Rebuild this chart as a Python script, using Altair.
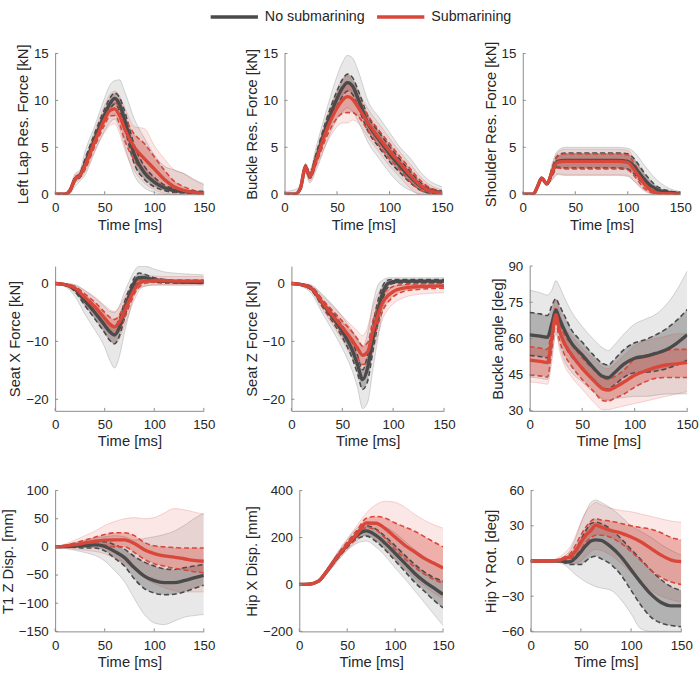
import altair as alt
import pandas as pd

GROUPS = ["No submarining", "Submarining"]
COLORS = ["#4a4a4a", "#d8473a"]
TIME_TICKS = [0, 50, 100, 150]
AXIS_GREY = "#8a8a8a"
TEXT = "#262626"
FONT = "Liberation Sans"

# Each group of a panel: mean, -1 SD, +1 SD, lowest trace, highest trace

# Left lap belt resultant force [kN]
lap_t = [0, 10, 15, 20, 25, 30, 40, 50, 55, 60, 65, 70, 80, 90, 100, 110, 120, 130, 140, 150]
lap_ns_mean = [0, 0, 0.4, 1.6, 2.0, 3.2, 5.9, 8.5, 9.6, 10.2, 9.6, 8.0, 4.2, 2.3, 1.3, 0.7, 0.4, 0.3, 0.2, 0.15]
lap_ns_sdlo = [0, 0, 0.3, 1.4, 1.8, 2.7, 5.3, 7.9, 9.0, 9.6, 8.9, 7.1, 3.2, 1.6, 0.8, 0.4, 0.2, 0.15, 0.1, 0.05]
lap_ns_sdhi = [0, 0, 0.5, 1.8, 2.2, 3.7, 6.5, 9.1, 10.2, 10.8, 10.3, 8.9, 5.2, 3.0, 1.8, 1.0, 0.6, 0.45, 0.35, 0.3]
lap_ns_min = [0, 0, 0.1, 0.8, 1.4, 2.0, 4.5, 6.8, 7.6, 8.0, 7.0, 5.2, 2.0, 0.7, 0.2, 0, 0, 0, 0, 0]
lap_ns_max = [0, 0.1, 0.8, 2.2, 2.6, 4.5, 7.3, 10.3, 11.6, 12.1, 12.2, 11.0, 8.0, 6.0, 4.2, 3.0, 2.6, 2.2, 1.6, 1.1]
lap_s_mean = [0, 0, 0.4, 1.6, 2.0, 3.0, 5.6, 8.0, 8.9, 9.1, 8.4, 7.0, 5.0, 3.8, 2.7, 1.6, 0.8, 0.4, 0.2, 0.1]
lap_s_sdlo = [0, 0, 0.3, 1.4, 1.8, 2.6, 5.1, 7.4, 8.3, 8.4, 7.5, 5.8, 3.6, 2.3, 1.4, 0.7, 0.3, 0.1, 0.05, 0]
lap_s_sdhi = [0, 0, 0.5, 1.8, 2.2, 3.4, 6.1, 8.6, 9.5, 9.8, 9.3, 8.2, 6.4, 5.4, 4.0, 2.6, 1.4, 0.8, 0.4, 0.2]
lap_s_min = [0, 0, 0.2, 1.2, 1.6, 2.3, 4.6, 6.6, 7.3, 7.5, 6.5, 4.8, 2.5, 1.2, 0.5, 0.1, 0, 0, 0, 0]
lap_s_max = [0, 0, 0.6, 2.0, 2.4, 3.8, 6.8, 9.5, 10.6, 11.0, 10.5, 9.3, 7.2, 7.0, 5.2, 3.8, 2.6, 2.2, 1.5, 1.0]

# Buckle resultant force [kN]
bkf_t = [0, 10, 15, 20, 24, 30, 40, 50, 55, 60, 65, 70, 80, 90, 100, 110, 120, 130, 140, 150]
bkf_ns_mean = [0, 0, 0.6, 2.9, 1.9, 3.8, 7.3, 10.2, 11.3, 11.9, 11.5, 10.2, 7.4, 5.8, 4.3, 3.0, 1.8, 0.8, 0.35, 0.2]
bkf_ns_sdlo = [0, 0, 0.5, 2.7, 1.7, 3.3, 6.6, 9.4, 10.4, 11.0, 10.6, 9.3, 6.6, 5.0, 3.5, 2.3, 1.2, 0.4, 0.1, 0.05]
bkf_ns_sdhi = [0, 0, 0.7, 3.1, 2.1, 4.3, 8.0, 11.0, 12.2, 12.8, 12.4, 11.1, 8.2, 6.6, 5.1, 3.7, 2.4, 1.2, 0.6, 0.35]
bkf_ns_min = [0, 0, 0.3, 2.2, 1.2, 2.5, 5.5, 8.0, 8.8, 9.2, 8.8, 7.8, 5.4, 3.8, 2.3, 1.1, 0.4, 0, 0, 0]
bkf_ns_max = [0.3, 0.5, 1.0, 3.3, 2.6, 5.0, 9.0, 12.6, 14.0, 14.8, 14.5, 13.2, 9.8, 8.2, 6.6, 5.0, 3.8, 2.3, 1.3, 0.8]
bkf_s_mean = [0, 0, 0.6, 2.9, 1.9, 3.6, 6.8, 9.2, 10.0, 10.4, 10.1, 9.3, 7.5, 6.0, 4.6, 3.3, 2.0, 0.9, 0.3, 0.15]
bkf_s_sdlo = [0, 0, 0.5, 2.7, 1.7, 3.2, 6.1, 8.1, 8.6, 8.7, 8.7, 8.3, 6.7, 5.2, 3.8, 2.6, 1.3, 0.4, 0.05, 0]
bkf_s_sdhi = [0, 0, 0.7, 3.1, 2.1, 4.0, 7.5, 10.4, 11.5, 12.0, 11.4, 10.3, 8.3, 6.8, 5.4, 4.0, 2.7, 1.4, 0.6, 0.3]
bkf_s_min = [0, 0, 0.4, 2.5, 1.4, 2.8, 5.4, 7.2, 7.6, 7.6, 7.9, 7.6, 6.0, 4.5, 3.0, 1.8, 0.6, 0, 0, 0]
bkf_s_max = [0, 0, 0.8, 3.2, 2.4, 4.5, 8.2, 11.2, 12.3, 12.6, 12.0, 11.0, 9.0, 7.5, 6.0, 4.5, 3.2, 1.8, 0.9, 0.5]

# Shoulder belt resultant force [kN]
shf_t = [0, 10, 14, 18, 23, 28, 33, 40, 50, 70, 90, 100, 105, 110, 115, 120, 125, 130, 140, 150]
shf_ns_mean = [0, 0, 0.8, 1.7, 1.1, 2.4, 3.5, 3.6, 3.6, 3.6, 3.6, 3.5, 3.1, 2.4, 1.7, 1.1, 0.7, 0.4, 0.2, 0.1]
shf_ns_sdlo = [0, 0, 0.8, 1.7, 1.1, 2.0, 2.9, 2.8, 2.8, 2.8, 2.8, 2.7, 2.3, 1.7, 1.1, 0.6, 0.3, 0.15, 0.05, 0]
shf_ns_sdhi = [0, 0, 0.8, 1.7, 1.1, 2.8, 4.1, 4.4, 4.4, 4.4, 4.4, 4.3, 3.9, 3.2, 2.4, 1.7, 1.1, 0.7, 0.35, 0.2]
shf_ns_min = [0, 0, 0.7, 1.6, 1.0, 1.5, 2.1, 2.0, 2.0, 2.0, 2.0, 1.9, 1.5, 1.0, 0.5, 0.2, 0, 0, 0, 0]
shf_ns_max = [0, 0, 0.8, 1.8, 1.2, 3.3, 4.6, 5.0, 5.0, 5.0, 5.0, 4.9, 4.6, 4.0, 3.2, 2.5, 1.8, 1.3, 0.6, 0.3]
shf_s_mean = [0, 0, 0.8, 1.7, 1.1, 2.4, 3.4, 3.5, 3.5, 3.5, 3.5, 3.4, 2.8, 2.0, 1.2, 0.6, 0.25, 0.1, 0.05, 0]
shf_s_sdlo = [0, 0, 0.8, 1.7, 1.1, 2.0, 2.8, 2.7, 2.7, 2.7, 2.7, 2.6, 2.1, 1.4, 0.7, 0.3, 0.1, 0, 0, 0]
shf_s_sdhi = [0, 0, 0.8, 1.7, 1.1, 2.8, 4.0, 4.3, 4.3, 4.3, 4.3, 4.2, 3.5, 2.6, 1.7, 0.9, 0.45, 0.2, 0.1, 0.05]
shf_s_min = [0, 0, 0.7, 1.6, 1.0, 1.6, 2.2, 2.1, 2.1, 2.1, 2.1, 2.0, 1.5, 0.9, 0.4, 0.1, 0, 0, 0, 0]
shf_s_max = [0, 0, 0.8, 1.8, 1.2, 3.1, 4.4, 4.8, 4.8, 4.8, 4.8, 4.7, 4.0, 3.1, 2.2, 1.3, 0.7, 0.3, 0.15, 0.1]

# Seat pan X force [kN]
stx_t = [0, 10, 20, 30, 40, 50, 55, 60, 65, 70, 75, 80, 85, 90, 100, 110, 120, 150]
stx_ns_mean = [0, -0.2, -1.0, -3.0, -5.0, -7.2, -8.3, -8.9, -7.5, -4.6, -2.0, 0.2, 1.0, 1.0, 0.6, 0.4, 0.3, 0.2]
stx_ns_sdlo = [0, -0.3, -1.4, -3.8, -6.1, -8.5, -9.8, -10.4, -9.0, -6.0, -3.1, -0.6, 0.2, 0.4, 0.2, 0.1, 0.1, 0.0]
stx_ns_sdhi = [0, -0.1, -0.6, -2.2, -3.9, -5.9, -6.9, -7.4, -6.0, -3.2, -0.9, 1.0, 1.8, 1.6, 1.0, 0.7, 0.5, 0.4]
stx_ns_min = [0, -0.5, -2.2, -5.3, -8.0, -11.0, -13.2, -14.6, -12.5, -8.5, -5.0, -2.0, -0.8, -0.5, -0.3, -0.3, -0.3, -0.3]
stx_ns_max = [0, 0, -0.2, -1.2, -2.5, -4.0, -4.8, -5.0, -3.8, -1.5, 0.5, 2.2, 3.0, 3.0, 2.5, 2.0, 1.8, 1.5]
stx_s_mean = [0, -0.2, -0.8, -2.4, -4.0, -6.0, -7.0, -7.5, -6.6, -4.8, -2.8, -1.0, 0.0, 0.4, 0.5, 0.5, 0.4, 0.4]
stx_s_sdlo = [0, -0.3, -1.1, -3.0, -4.8, -7.0, -8.2, -8.9, -7.9, -6.0, -3.8, -1.8, -0.6, 0.0, 0.2, 0.2, 0.2, 0.2]
stx_s_sdhi = [0, -0.1, -0.5, -1.8, -3.2, -5.0, -5.8, -6.2, -5.4, -3.6, -1.8, -0.2, 0.6, 0.8, 0.8, 0.7, 0.6, 0.6]
stx_s_min = [0, -0.4, -1.6, -3.8, -6.0, -8.6, -9.8, -10.5, -9.5, -7.3, -5.0, -2.8, -1.2, -0.5, -0.2, -0.2, -0.2, -0.2]
stx_s_max = [0, 0, -0.3, -1.2, -2.3, -3.8, -4.5, -4.8, -4.0, -2.4, -0.8, 0.6, 1.2, 1.4, 1.3, 1.2, 1.2, 1.2]

# Seat pan Z force [kN]
stz_t = [0, 10, 20, 30, 40, 50, 60, 65, 70, 75, 80, 85, 90, 95, 100, 110, 120, 150]
stz_ns_mean = [0, -0.2, -0.9, -3.3, -5.7, -8.3, -11.6, -14.0, -16.6, -14.5, -9.5, -5.0, -1.5, 0.0, 0.3, 0.4, 0.4, 0.4]
stz_ns_sdlo = [0, -0.3, -1.2, -3.9, -6.5, -9.3, -13.0, -15.6, -18.3, -16.8, -11.8, -7.0, -2.7, -0.6, 0.0, 0.1, 0.1, 0.1]
stz_ns_sdhi = [0, -0.1, -0.6, -2.7, -4.9, -7.3, -10.2, -12.4, -14.9, -12.2, -7.2, -3.0, -0.3, 0.6, 0.7, 0.7, 0.7, 0.7]
stz_ns_min = [0, -0.5, -1.8, -5.0, -8.0, -11.2, -15.2, -18.0, -21.6, -20.5, -15.0, -9.5, -4.5, -1.5, -0.5, -0.3, -0.3, -0.3]
stz_ns_max = [0, 0, -0.3, -1.8, -3.6, -5.7, -8.2, -9.5, -11.0, -8.5, -3.5, -0.3, 0.6, 1.0, 1.0, 1.0, 1.0, 1.0]
stz_s_mean = [0, -0.2, -0.9, -3.2, -5.4, -7.6, -9.9, -11.2, -12.4, -11.8, -8.3, -5.5, -3.2, -2.1, -1.4, -0.8, -0.6, -0.4]
stz_s_sdlo = [0, -0.3, -1.2, -3.7, -6.2, -8.7, -11.4, -12.8, -14.0, -13.6, -10.1, -7.2, -4.6, -3.2, -2.3, -1.4, -1.1, -0.8]
stz_s_sdhi = [0, -0.1, -0.6, -2.7, -4.6, -6.5, -8.4, -9.6, -10.8, -10.2, -6.5, -3.8, -1.8, -1.0, -0.5, -0.2, -0.1, 0.0]
stz_s_min = [0, -0.4, -1.4, -4.3, -7.0, -9.8, -13.0, -14.5, -15.8, -15.5, -12.0, -9.0, -6.0, -4.5, -3.5, -2.5, -2.0, -1.6]
stz_s_max = [0, 0, -0.4, -2.0, -3.8, -5.6, -7.4, -8.2, -9.0, -7.5, -4.0, -1.8, -0.4, 0.0, 0.2, 0.3, 0.3, 0.3]

# Buckle angle [deg]
bka_t = [0, 10, 17, 21, 25, 28, 32, 40, 50, 60, 70, 75, 80, 90, 100, 110, 120, 130, 140, 150]
bka_ns_mean = [61.5, 61.0, 60.5, 66, 71.7, 68.5, 64.5, 58, 53.2, 48.2, 44.2, 43.8, 45.5, 49.5, 51.8, 52.6, 53.8, 55.3, 58, 61.5]
bka_ns_sdlo = [53, 52.5, 52, 59, 67.5, 63.5, 58.5, 52.5, 48, 43, 39.5, 39, 40.5, 44, 45.8, 46, 46.5, 47.5, 49, 51]
bka_ns_sdhi = [70.8, 70.2, 69.5, 73.5, 76.5, 74, 70.5, 63.5, 58.5, 53.5, 49.5, 49, 51, 55.5, 58.2, 59.5, 61.5, 64, 67.5, 72]
bka_ns_min = [44, 43.5, 43, 52, 62, 58, 52, 46, 42, 38, 35, 34.5, 35, 35.5, 36, 36, 36.5, 37, 37, 37]
bka_ns_max = [80, 79, 78, 80, 84, 82, 78, 71, 65, 60, 56, 55, 57, 62, 66, 68, 70, 74, 80, 88]
bka_s_mean = [51, 50.5, 50, 60, 69.9, 64, 59, 53.2, 47.6, 43, 39, 38.6, 39.5, 42, 44.8, 46.5, 48, 49, 49.5, 50]
bka_s_sdlo = [44.8, 44.5, 44, 55.5, 66.5, 60, 54.5, 48.5, 43, 38.5, 34.2, 34, 35, 37, 39.8, 42, 43.5, 43.8, 43.8, 43.8]
bka_s_sdhi = [56.6, 56, 55.5, 64, 73, 67.5, 62.5, 57.5, 52, 47.5, 43.5, 43, 44, 47, 51.5, 53, 54, 55, 55.5, 55.5]
bka_s_min = [42, 41.5, 41, 50, 63, 56, 50, 44, 39, 34, 30.5, 30.5, 31, 32, 33, 34, 35, 36, 37, 38]
bka_s_max = [62, 61.5, 61, 68, 76, 72, 66, 61, 56, 52, 48, 47.5, 49, 53, 57, 59, 60, 61, 62, 62]

# T1 vertical displacement [mm]
t1z_t = [0, 10, 20, 30, 40, 50, 60, 70, 80, 90, 100, 110, 120, 130, 140, 150]
t1z_ns_mean = [0, 0.5, 1.5, 2.5, 3.5, 1, -8, -19, -37, -52, -60, -63.5, -63.5, -60, -55, -50.5]
t1z_ns_sdlo = [0, -0.5, -1, -2, -2, -7, -20, -34, -57, -74, -82, -85, -84, -80, -74, -68]
t1z_ns_sdhi = [0, 1.5, 4, 7, 9, 9, 4, -4, -17, -27, -34, -39, -40, -37, -34, -31]
t1z_ns_min = [0, -3, -6, -10, -15, -25, -42, -62, -92, -120, -135, -138, -132, -125, -122, -120]
t1z_ns_max = [0, 3, 8, 12, 16, 18, 20, 18, 12, 15, 18, 22, 28, 38, 50, 60]
t1z_s_mean = [0, 1.5, 4, 7, 10, 12, 12.5, 12.5, 6, -5, -12, -16, -18, -21, -24, -25.5]
t1z_s_sdlo = [0, 0, 1, 2, 3, 3, 0, 0, -10, -22, -30, -34, -38, -41, -44, -46]
t1z_s_sdhi = [0, 3, 7, 12, 17, 22, 25, 25, 20, 8, 2, 0, -1, -2, -2, -2]
t1z_s_min = [0, -2, -4, -6, -8, -12, -20, -28, -40, -55, -65, -72, -78, -80, -80, -80]
t1z_s_max = [0, 5, 12, 20, 28, 38, 45, 50, 52, 50, 52, 60, 68, 66, 62, 58]

# Hip X displacement [mm]
hpx_t = [0, 10, 20, 30, 40, 50, 60, 70, 80, 90, 100, 110, 120, 130, 140, 150]
hpx_ns_mean = [0, 1, 14, 63, 119, 167, 209, 228, 209, 174, 133, 91, 49, 14, -14, -42]
hpx_ns_sdlo = [0, 1, 12, 58, 112, 157, 194, 206, 183, 146, 101, 57, 11, -27, -66, -100]
hpx_ns_sdhi = [0, 1, 16, 68, 126, 177, 226, 250, 236, 203, 165, 125, 87, 55, 30, 15]
hpx_ns_min = [0, 0, 8, 50, 100, 145, 175, 185, 160, 120, 70, 25, -25, -75, -125, -175]
hpx_ns_max = [0, 2, 20, 75, 135, 190, 240, 262, 262, 245, 220, 185, 150, 120, 95, 75]
hpx_s_mean = [0, 1, 14, 63, 120, 169, 214, 262, 261, 237, 202, 167, 140, 112, 91, 70]
hpx_s_sdlo = [0, 1, 12, 59, 112, 158, 200, 242, 232, 195, 150, 110, 75, 45, 22, 5]
hpx_s_sdhi = [0, 1, 16, 67, 128, 180, 230, 282, 290, 282, 262, 245, 228, 205, 182, 160]
hpx_s_min = [0, 0, 8, 52, 102, 148, 185, 210, 190, 150, 110, 70, 30, -5, -35, -60]
hpx_s_max = [0, 2, 20, 75, 138, 195, 250, 305, 340, 355, 350, 330, 300, 275, 255, 240]

# Hip Y rotation [deg]
hpy_t = [0, 20, 30, 35, 40, 45, 50, 55, 60, 65, 70, 80, 90, 100, 110, 120, 130, 140, 150]
hpy_ns_mean = [0, 0, 0, -0.8, -0.5, 3, 7.8, 13, 17, 18, 17.6, 12, 3.6, -7.5, -18.7, -28.5, -35.4, -38.2, -38.2]
hpy_ns_sdlo = [0, 0, -0.5, -2, -3, -3, -3, 0, 3, 4, 2, -3, -12, -25, -38, -48, -53, -55, -56]
hpy_ns_sdhi = [0, 0, 0.5, 1, 3, 10, 18, 26, 32, 33, 32, 27, 19, 10, 1, -8, -16, -22, -25]
hpy_ns_min = [0, -0.5, -2, -4, -8, -12, -15, -18, -20, -22, -23, -25, -33, -45, -58, -60, -60, -60, -60]
hpy_ns_max = [0, 0.5, 2, 5, 10, 20, 32, 42, 50, 52, 50, 45, 38, 30, 25, 20, 14, 9, 5]
hpy_s_mean = [0, 0, 1, 2.5, 4.2, 9, 16, 22, 26, 30.5, 29, 26, 23.7, 20.4, 16.2, 10.6, 5, 0.8, -0.6]
hpy_s_sdlo = [0, 0, 0, 1, 2, 5, 10, 16, 20, 22, 22, 20, 15, 8, 0, -8, -14, -18, -20]
hpy_s_sdhi = [0, 0, 2, 4, 7, 14, 22, 29, 34, 36, 35, 34, 32, 30, 28.5, 27, 24, 20, 18]
hpy_s_min = [0, -0.5, -1, -2, -3, -2, 0, 4, 8, 10, 9, 5, -2, -10, -18, -25, -30, -33, -35]
hpy_s_max = [0, 1, 4, 8, 13, 22, 33, 42, 47, 50, 48, 45, 43, 42, 40, 38, 36, 34, 33]


def table(t, no_sub, sub):
    rows = []
    for group, curves in zip(GROUPS, (no_sub, sub)):
        mean, sd_lo, sd_hi, lo, hi = curves
        for i, ti in enumerate(t):
            rows.append({"t": ti, "group": group, "mean": mean[i], "sd_lo": sd_lo[i],
                         "sd_hi": sd_hi[i], "lo": lo[i], "hi": hi[i]})
    return pd.DataFrame(rows)


def panel(df, title, domain, ticks, width, height):
    def X():
        return alt.X("t:Q", scale=alt.Scale(domain=[0, 150], nice=False),
                     axis=alt.Axis(values=TIME_TICKS, title="Time [ms]"))

    def Y(field):
        return alt.Y(f"{field}:Q", scale=alt.Scale(domain=domain, nice=False, zero=False),
                     axis=alt.Axis(values=ticks, title=title))

    spreads, cores, edges, sds = [], [], [], []
    for group, colour in zip(GROUPS, COLORS):
        part = alt.Chart(df[df["group"] == group])
        # spread of all traces and the +/-1 SD corridor
        spreads.append(part.mark_area(color=colour, opacity=0.13, clip=True,
                                      interpolate="monotone").encode(x=X(), y=Y("lo"), y2="hi"))
        cores.append(part.mark_area(color=colour, opacity=0.34, clip=True,
                                    interpolate="monotone").encode(x=X(), y=Y("sd_lo"), y2="sd_hi"))
        edges.append(part.transform_fold(["lo", "hi"], as_=["stat", "v"]).mark_line(
            color=colour, strokeWidth=0.6, opacity=0.35, clip=True, interpolate="monotone").encode(
            x=X(), y=Y("v"), detail="stat:N"))
        sds.append(part.transform_fold(["sd_lo", "sd_hi"], as_=["stat", "v"]).mark_line(
            color=colour, strokeWidth=1.6, strokeDash=[5, 3], clip=True, interpolate="monotone").encode(
            x=X(), y=Y("v"), detail="stat:N"))

    mean = alt.Chart(df).mark_line(strokeWidth=3.4, clip=True, interpolate="monotone").encode(
        x=X(), y=Y("mean"),
        color=alt.Color("group:N", scale=alt.Scale(domain=GROUPS, range=COLORS),
                        legend=alt.Legend(title=None)))

    # inward tick marks
    xt = alt.Chart(pd.DataFrame({"t": TIME_TICKS})).mark_rule(color=AXIS_GREY).encode(
        x=X(), y=alt.value(height), y2=alt.value(height - 3))
    yt = alt.Chart(pd.DataFrame({"v": ticks})).mark_rule(color=AXIS_GREY).encode(
        y=Y("v"), x=alt.value(0), x2=alt.value(3))

    return alt.layer(*spreads, *cores, *edges, *sds, mean, xt, yt).properties(
        width=width, height=height)


p_lap = panel(table(lap_t, (lap_ns_mean, lap_ns_sdlo, lap_ns_sdhi, lap_ns_min, lap_ns_max),
                    (lap_s_mean, lap_s_sdlo, lap_s_sdhi, lap_s_min, lap_s_max)),
              "Left Lap Res. Force [kN]", [0, 15], [0, 5, 10, 15], 151, 143)
p_bkf = panel(table(bkf_t, (bkf_ns_mean, bkf_ns_sdlo, bkf_ns_sdhi, bkf_ns_min, bkf_ns_max),
                    (bkf_s_mean, bkf_s_sdlo, bkf_s_sdhi, bkf_s_min, bkf_s_max)),
              "Buckle Res. Force [kN]", [0, 15], [0, 5, 10, 15], 160, 143)
p_shf = panel(table(shf_t, (shf_ns_mean, shf_ns_sdlo, shf_ns_sdhi, shf_ns_min, shf_ns_max),
                    (shf_s_mean, shf_s_sdlo, shf_s_sdhi, shf_s_min, shf_s_max)),
              "Shoulder Res. Force [kN]", [0, 15], [0, 5, 10, 15], 160, 143)
p_stx = panel(table(stx_t, (stx_ns_mean, stx_ns_sdlo, stx_ns_sdhi, stx_ns_min, stx_ns_max),
                    (stx_s_mean, stx_s_sdlo, stx_s_sdhi, stx_s_min, stx_s_max)),
              "Seat X Force [kN]", [-22, 3], [-20, -10, 0], 151, 147)
p_stz = panel(table(stz_t, (stz_ns_mean, stz_ns_sdlo, stz_ns_sdhi, stz_ns_min, stz_ns_max),
                    (stz_s_mean, stz_s_sdlo, stz_s_sdhi, stz_s_min, stz_s_max)),
              "Seat Z Force [kN]", [-22, 3], [-20, -10, 0], 155, 147)
p_bka = panel(table(bka_t, (bka_ns_mean, bka_ns_sdlo, bka_ns_sdhi, bka_ns_min, bka_ns_max),
                    (bka_s_mean, bka_s_sdlo, bka_s_sdhi, bka_s_min, bka_s_max)),
              "Buckle angle [deg]", [30, 90], [30, 45, 60, 75, 90], 160, 147)
p_t1z = panel(table(t1z_t, (t1z_ns_mean, t1z_ns_sdlo, t1z_ns_sdhi, t1z_ns_min, t1z_ns_max),
                    (t1z_s_mean, t1z_s_sdlo, t1z_s_sdhi, t1z_s_min, t1z_s_max)),
              "T1 Z Disp. [mm]", [-150, 100], [-150, -100, -50, 0, 50, 100], 151, 143)
p_hpx = panel(table(hpx_t, (hpx_ns_mean, hpx_ns_sdlo, hpx_ns_sdhi, hpx_ns_min, hpx_ns_max),
                    (hpx_s_mean, hpx_s_sdlo, hpx_s_sdhi, hpx_s_min, hpx_s_max)),
              "Hip X Disp. [mm]", [-200, 400], [-200, 0, 200, 400], 146, 143)
p_hpy = panel(table(hpy_t, (hpy_ns_mean, hpy_ns_sdlo, hpy_ns_sdhi, hpy_ns_min, hpy_ns_max),
                    (hpy_s_mean, hpy_s_sdlo, hpy_s_sdhi, hpy_s_min, hpy_s_max)),
              "Hip Y Rot. [deg]", [-60, 60], [-60, -30, 0, 30, 60], 153, 143)

# panels flow left to right within each row, so every row keeps its own axis offsets
flow = alt.RowColLayoutAlign(row="each", column="none")
forces = alt.concat(p_lap, p_bkf, p_shf, p_stx, p_stz, p_bka, columns=3,
                    spacing=alt.RowColnumber(row=27, column=29), align=flow)
kinematics = alt.concat(p_t1z, p_hpx, p_hpy, columns=3,
                        spacing=alt.RowColnumber(row=27, column=29), align=flow)

chart = alt.vconcat(forces, kinematics, spacing=35).configure(
    padding={"left": 0, "top": 4, "right": 0, "bottom": 0},
    font=FONT,
).configure_view(
    stroke=None,
).configure_axis(
    grid=False,
    ticks=False,
    domainColor=AXIS_GREY,
    domainWidth=1,
    labelFont=FONT,
    labelFontSize=13.5,
    labelColor=TEXT,
    labelPadding=7,
    labelFlush=False,
    titleFont=FONT,
    titleFontSize=15,
    titleFontWeight="normal",
    titleColor=TEXT,
    titlePadding=3,
).configure_legend(
    orient="none",
    legendX=174,
    legendY=-45,
    padding=0,
    direction="horizontal",
    # a wide flat line sample: path scaled by sqrt(size)/2 -> 48 px long
    symbolType="M-4,0H4",
    symbolSize=144,
    symbolStrokeWidth=3.5,
    labelFont=FONT,
    labelFontSize=14.5,
    labelColor=TEXT,
    labelOffset=23,
    columnPadding=5,
)

chart.save("out.html", embed_options={"renderer": "svg", "actions": False})
